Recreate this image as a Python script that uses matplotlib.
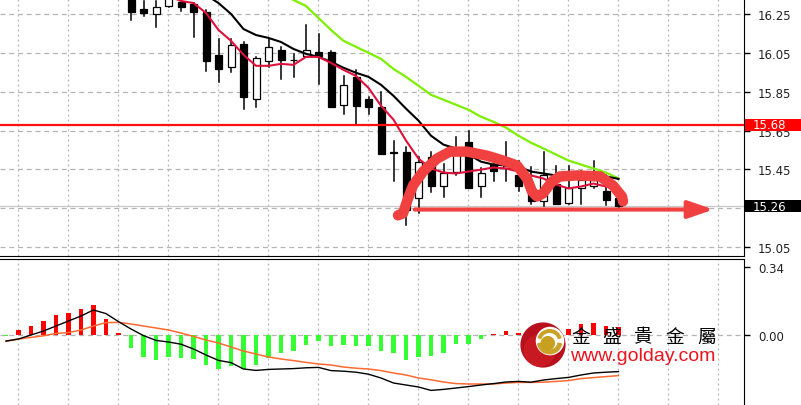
import numpy as np
import matplotlib.pyplot as plt
from matplotlib.patches import Rectangle, Circle, Wedge

# candles (bar index 10..49; earlier bars sit above the visible price range)
bar_idx = np.arange(10, 50)
opens = [16.36, 16.277, 16.252, 16.293, 16.313, 16.303, 16.262, 16.041, 15.979, 16.097,
         15.814, 16.010, 16.066, 16.015, 16.035, 16.056, 16.056, 15.783, 15.927, 15.814,
         15.773, 15.538, 15.541, 15.299, 15.515, 15.366, 15.438, 15.593, 15.366, 15.479,
         15.454, 15.418, 15.351, 15.284, 15.376, 15.278, 15.351, 15.366, 15.340, 15.30]
highs = [16.38, 16.319, 16.319, 16.36, 16.33, 16.31, 16.27, 16.123, 16.123, 16.107,
         16.03, 16.123, 16.082, 16.046, 16.195, 16.149, 16.06, 15.932, 15.963, 15.824,
         15.85, 15.598, 15.567, 15.515, 15.541, 15.479, 15.618, 15.649, 15.454, 15.495,
         15.593, 15.495, 15.464, 15.541, 15.469, 15.469, 15.443, 15.495, 15.418, 15.32]
lows = [16.221, 16.241, 16.185, 16.29, 16.267, 16.133, 15.958, 15.902, 15.953, 15.762,
        15.773, 15.979, 15.917, 15.927, 16.030, 15.891, 15.77, 15.737, 15.685, 15.737,
        15.531, 15.387, 15.160, 15.222, 15.335, 15.309, 15.418, 15.351, 15.309, 15.387,
        15.387, 15.34, 15.273, 15.258, 15.273, 15.273, 15.273, 15.351, 15.263, 15.25]
closes = [16.262, 16.257, 16.288, 16.34, 16.288, 16.262, 16.010, 15.968, 16.092, 15.824,
          16.025, 16.082, 16.015, 16.012, 16.066, 16.035, 15.773, 15.886, 15.778, 15.773,
          15.531, 15.536, 15.237, 15.489, 15.361, 15.428, 15.557, 15.351, 15.428, 15.443,
          15.469, 15.361, 15.284, 15.418, 15.273, 15.351, 15.392, 15.392, 15.289, 15.26]

# moving averages
ma_fast_idx = np.arange(13, 50)
ma_fast = [16.345, 16.319, 16.308, 16.257, 16.169, 16.113, 16.041, 15.984, 15.984, 15.994,
           15.989, 16.030, 16.030, 15.999, 15.963, 15.932, 15.87, 15.778, 15.706, 15.598,
           15.505, 15.454, 15.433, 15.428, 15.438, 15.448, 15.459, 15.454, 15.438, 15.418,
           15.402, 15.371, 15.351, 15.361, 15.376, 15.361, 15.34]
ma_mid_idx = np.arange(16, 50)
ma_mid = [16.35, 16.308, 16.252, 16.174, 16.143, 16.128, 16.107, 16.071, 16.046, 16.030,
          16.005, 15.974, 15.948, 15.927, 15.886, 15.829, 15.763, 15.701, 15.623, 15.577,
          15.557, 15.526, 15.489, 15.474, 15.469, 15.464, 15.438, 15.428, 15.418, 15.418,
          15.418, 15.418, 15.413, 15.40]
ma_slow_idx = np.arange(22, 50)
ma_slow = [16.36, 16.324, 16.293, 16.231, 16.169, 16.113, 16.082, 16.051, 16.020, 15.968,
           15.927, 15.881, 15.834, 15.809, 15.783, 15.757, 15.721, 15.695, 15.665, 15.623,
           15.587, 15.557, 15.526, 15.495, 15.474, 15.454, 15.433, 15.402]

# MACD panel, bars 0..49
macd_idx = np.arange(0, 50)
macd_hist = [-0.005, 0.025, 0.047, 0.068, 0.10, 0.108, 0.13, 0.152, 0.08, 0.01,
             -0.065, -0.108, -0.125, -0.108, -0.115, -0.12, -0.15, -0.17, -0.153, -0.17,
             -0.15, -0.115, -0.092, -0.078, -0.048, -0.032, -0.053, -0.048, -0.053, -0.053,
             -0.082, -0.092, -0.125, -0.108, -0.103, -0.09, -0.045, -0.045, -0.02, 0.006,
             0.02, 0.01, 0.015, 0.02, 0.012, 0.03, 0.055, 0.058, 0.047, 0.042]
macd_line = [-0.03, -0.02, 0.0, 0.02, 0.045, 0.07, 0.095, 0.125, 0.107, 0.067,
             0.03, -0.003, -0.027, -0.035, -0.046, -0.07, -0.1, -0.127, -0.138, -0.17,
             -0.177, -0.172, -0.17, -0.168, -0.164, -0.162, -0.178, -0.181, -0.186, -0.196,
             -0.215, -0.24, -0.25, -0.26, -0.277, -0.272, -0.265, -0.258, -0.25, -0.243,
             -0.235, -0.232, -0.236, -0.225, -0.218, -0.212, -0.2, -0.19, -0.186, -0.183]
signal_line = [-0.032, -0.02, -0.012, -0.004, 0.008, 0.012, 0.025, 0.045, 0.062, 0.063,
               0.055, 0.045, 0.035, 0.025, 0.01, -0.007, -0.025, -0.04, -0.06, -0.08,
               -0.095, -0.11, -0.12, -0.128, -0.137, -0.145, -0.15, -0.16, -0.166, -0.17,
               -0.178, -0.19, -0.2, -0.215, -0.224, -0.235, -0.243, -0.245, -0.245, -0.245,
               -0.24, -0.237, -0.237, -0.236, -0.232, -0.228, -0.218, -0.213, -0.208, -0.203]

price_ticks = [15.05, 15.25, 15.45, 15.65, 15.85, 16.05, 16.25]
price_labels = ['15.05', '', '15.45', '15.65', '15.85', '16.05', '16.25']
resistance = 15.68
last_price = 15.26

# hand drawn markup
stroke_x = [31.36, 31.76, 32.16, 32.56, 33.36, 34.48, 35.52, 36.88, 38.48, 39.76, 40.88,
            41.68, 42.08, 42.48, 42.96, 43.68, 44.32, 45.68, 47.52, 48.56, 49.28, 49.36]
stroke_y = [15.212, 15.222, 15.299, 15.366, 15.438, 15.505, 15.541, 15.541, 15.520, 15.495,
            15.469, 15.402, 15.335, 15.309, 15.325, 15.387, 15.413, 15.418, 15.413, 15.366,
            15.309, 15.284]
arrow_x = [32.7, 56.6]
arrow_y = 15.242

W, H = 801, 406
fig = plt.figure(figsize=(W / 100, H / 100), dpi=100)
ax = fig.add_axes([0, 1 - 257 / H, 744 / W, 257 / H])
ax2 = fig.add_axes([0, 0, 744 / W, (H - 260) / H])

grid_x = np.arange(0.96, 58, 4)
for a in (ax, ax2):
    a.set_xlim(-0.48, 59.04)
    a.set_xticks(grid_x)
    a.tick_params(axis='x', length=0, labelbottom=False)
    a.grid(axis='x', color='#b4b4b4', linestyle=(0, (1.5, 2.5)), lw=0.9)
    a.yaxis.tick_right()
    a.tick_params(axis='y', length=4, width=1, labelsize=8.5, labelcolor='#222222', pad=6)
    a.spines['left'].set_visible(False)
    a.set_axisbelow(True)

ax.set_ylim(15.002, 16.329)
ax.set_yticks(price_ticks)
ax.set_yticklabels(price_labels)
ax.grid(axis='y', color='#b4b4b4', linestyle=(0, (4, 3)), lw=0.9)
ax.spines['top'].set_visible(False)

# candles
body_w = 0.56
for i, o, hi, lo, c in zip(bar_idx, opens, highs, lows, closes):
    ax.plot([i, i], [lo, hi], color='black', lw=1.1, zorder=2)
    up = c >= o
    ax.add_patch(Rectangle((i - body_w / 2, min(o, c)), body_w, max(abs(c - o), 0.004),
                           facecolor='white' if up else 'black', edgecolor='black',
                           lw=0.9, zorder=3))

ax.plot(ma_slow_idx, ma_slow, color='#7cf000', lw=1.6, zorder=4)
ax.plot(ma_mid_idx, ma_mid, color='black', lw=1.5, zorder=4)
ax.plot(ma_fast_idx, ma_fast, color='#e0103c', lw=1.5, zorder=4)

ax.axhline(last_price, color='#c8c8c8', lw=0.9, zorder=1)
ax.axhline(resistance, color='#ff1010', lw=1.6, zorder=5)

ax.plot(stroke_x, stroke_y, color='#f04040', lw=7.5, solid_capstyle='round',
        solid_joinstyle='round', zorder=6)
ax.annotate('', xy=(arrow_x[1], arrow_y), xytext=(arrow_x[0], arrow_y),
            arrowprops=dict(arrowstyle='-|>,head_length=1.1,head_width=0.38',
                            color='#f04040', lw=3, shrinkA=0, shrinkB=0,
                            mutation_scale=14), zorder=6)

# price tags on the right axis
ytr = ax.get_yaxis_transform()
tag_h = 12 / 194.2
for price, label, bg in [(resistance, '15.68', '#ff0000'), (last_price, '15.26', 'black')]:
    ax.add_patch(Rectangle((1.002, price - tag_h / 2), 56 / 744, tag_h, transform=ytr,
                           facecolor=bg, edgecolor='none', clip_on=False, zorder=9))
    ax.text(753 / 744, price, label, transform=ytr, ha='left', va='center',
            fontsize=8.5, color='white', clip_on=False, zorder=10)

# MACD panel
ax2.set_ylim(-0.35, 0.38)
ax2.set_yticks([0.0, 0.34])
ax2.set_yticklabels(['0.00', '0.34'])
ax2.spines['bottom'].set_visible(False)
ax2.axhline(0, color='#b4b4b4', linestyle=(0, (4, 3)), lw=0.9, zorder=0)
hist = np.array(macd_hist)
ax2.bar(macd_idx, hist, width=0.34, color=np.where(hist >= 0, '#ff0000', '#33ff33'),
        zorder=2)
ax2.plot(macd_idx, signal_line, color='#ff6a30', lw=1.1, zorder=3)
ax2.plot(macd_idx, macd_line, color='black', lw=1.0, zorder=3)

# logo
lax = fig.add_axes([520 / W, 1 - 369 / H, 46 / W, 46 / H])
lax.set_xlim(-1.05, 1.05)
lax.set_ylim(-1.05, 1.05)
lax.axis('off')
lax.add_patch(Circle((0, 0), 1.0, color='#b8101c'))
lax.add_patch(Circle((-0.15, -0.25), 0.7, color='#d41f26', alpha=0.6))
lax.add_patch(Circle((0.32, 0.18), 0.62, color='white'))
lax.add_patch(Wedge((0.3, 0.15), 0.55, 190, 350, width=0.16, color='#c9a227'))
lax.add_patch(Wedge((0.3, 0.15), 0.55, 20, 160, width=0.12, color='#c9a227'))
lax.add_patch(Circle((0.22, 0.08), 0.3, color='#c8a020'))

chars = ['金', '盛', '貴', '金', '屬']
for k, ch in enumerate(chars):
    fig.text((571 + k * 31.5) / W, 1 - 337 / H, ch, fontsize=13.5, color='black',
             family=['Noto Sans CJK TC', 'DejaVu Sans'], ha='left', va='center')
fig.text(570 / W, 1 - 357 / H, 'www.golday.com', fontsize=14, color='#e8141e',
         family='Liberation Sans', ha='left', va='center')

fig.savefig('out.png', dpi=100)
